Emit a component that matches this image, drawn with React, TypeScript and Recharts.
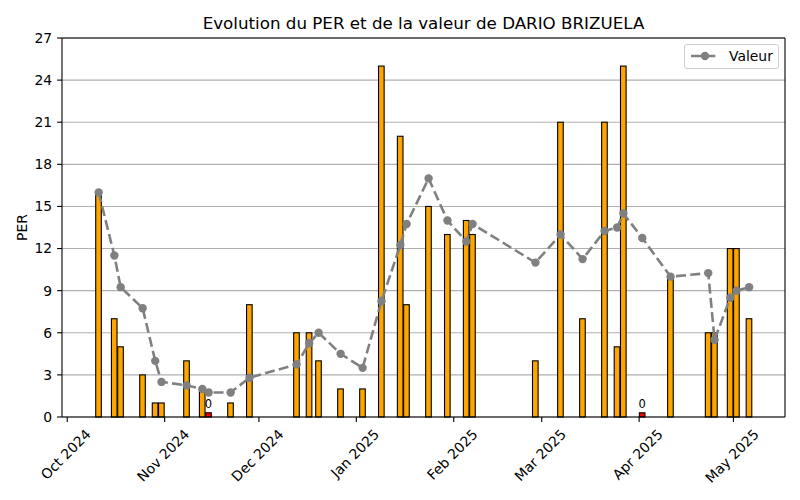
import React from 'react';
import {
  ComposedChart,
  Bar,
  Line,
  XAxis,
  YAxis,
  CartesianGrid,
  ReferenceLine,
  LabelList,
  Legend,
} from 'recharts';

// ---------- data ----------
const dates = [
  '2024-10-11', '2024-10-16', '2024-10-18', '2024-10-25', '2024-10-29', '2024-10-31',
  '2024-11-08', '2024-11-13', '2024-11-15', '2024-11-22', '2024-11-28',
  '2024-12-13', '2024-12-17', '2024-12-20', '2024-12-27',
  '2025-01-03', '2025-01-09', '2025-01-15', '2025-01-17', '2025-01-24', '2025-01-30',
  '2025-02-05', '2025-02-07', '2025-02-27',
  '2025-03-07', '2025-03-14', '2025-03-21', '2025-03-25', '2025-03-27',
  '2025-04-02', '2025-04-11', '2025-04-23', '2025-04-25', '2025-04-30',
  '2025-05-02', '2025-05-06',
];

const perValues = [
  16, 7, 5, 3, 1, 1,
  4, 2, 0.3, 1, 8,
  6, 6, 4, 2,
  2, 25, 20, 8, 15, 13,
  14, 13, 4,
  21, 7, 21, 5, 25,
  0.3, 10, 6, 6, 12,
  12, 7,
];

const perLabels = [
  '', '', '', '', '', '',
  '', '', '0', '', '',
  '', '', '', '',
  '', '', '', '', '', '',
  '', '', '',
  '', '', '', '', '',
  '0', '', '', '', '',
  '', '',
];

const valeurValues = [
  16.0, 11.5, 9.25, 7.75, 4.0, 2.5,
  2.25, 2.0, 1.75, 1.75, 2.8,
  3.75, 5.25, 6.0, 4.5,
  3.5, 8.25, 12.25, 13.75, 17.0, 14.0,
  12.5, 13.75, 11.0,
  13.0, 11.25, 13.25, 13.5, 14.5,
  12.75, 10.0, 10.25, 5.5, 8.5,
  9.0, 9.25,
];

const monthTicks = [
  '2024-10-01', '2024-11-01', '2024-12-01', '2025-01-01',
  '2025-02-01', '2025-03-01', '2025-04-01', '2025-05-01',
];

const yTicks = [0, 3, 6, 9, 12, 15, 18, 21, 24, 27];

const xDomainBounds = ['2024-09-29T08:00:00Z', '2025-05-17T10:00:00Z'];

const TITLE = 'Evolution du PER et de la valeur de DARIO BRIZUELA';
const Y_LABEL = 'PER';
const SERIES_NAME = 'Valeur';
const MONTHS = ['Jan', 'Feb', 'Mar', 'Apr', 'May', 'Jun', 'Jul', 'Aug', 'Sep', 'Oct', 'Nov', 'Dec'];

// ---------- helpers ----------
const toTs = (d: string) => Date.parse(d.length === 10 ? d + 'T00:00:00Z' : d);

const data = dates.map((d, i) => ({
  t: toTs(d),
  per: perValues[i],
  valeur: valeurValues[i],
  label: perLabels[i],
  neg: perLabels[i] !== '',
}));

const monthTickValues = monthTicks.map(toTs);
const xDomain: [number, number] = [toTs(xDomainBounds[0]), toTs(xDomainBounds[1])];

const fmtMonth = (ts: number) => {
  const d = new Date(ts);
  return MONTHS[d.getUTCMonth()] + ' ' + d.getUTCFullYear();
};

const FONT = '"DejaVu Sans", sans-serif';
const TICK_FS = 13.9;

let measureCtx: CanvasRenderingContext2D | null = null;
function textWidth(s: string, size: number): number {
  try {
    if (!measureCtx) measureCtx = document.createElement('canvas').getContext('2d');
    if (measureCtx) {
      measureCtx.font = `${size}px "DejaVu Sans"`;
      return measureCtx.measureText(s).width;
    }
  } catch (e) {
    /* ignore */
  }
  return s.length * size * 0.6;
}

const XTick = (props: any) => {
  const { x, y, payload } = props;
  const label = fmtMonth(payload.value);
  const w = textWidth(label, TICK_FS);
  const h = 14;
  const half = ((w + h) * Math.SQRT1_2) / 2;
  const cx = x - 1.5;
  const cy = y + half;
  return (
    <text
      x={cx}
      y={cy}
      textAnchor="middle"
      dominantBaseline="central"
      transform={`rotate(-45, ${cx}, ${cy})`}
      fontSize={TICK_FS}
      fontFamily={FONT}
      fill="#000"
    >
      {label}
    </text>
  );
};

const BarShape = (props: any) => {
  const { x, y, width, height, payload } = props;
  if (x == null || y == null || height == null || !isFinite(x)) return null;
  const cx = x + (width || 0) / 2;
  const bw = 5.6;
  return (
    <rect
      x={cx - bw / 2}
      y={y}
      width={bw}
      height={Math.max(0, height)}
      fill={payload && payload.neg ? '#ff0000' : '#ffa500'}
      stroke="#000"
      strokeWidth={1.1}
    />
  );
};

const PerLabel = (props: any) => {
  const { x, y, width, value } = props;
  if (!value) return null;
  return (
    <text
      x={x + (width || 0) / 2}
      y={y - 4.5}
      textAnchor="middle"
      fontSize={11.5}
      fontFamily={FONT}
      fill="#000"
    >
      {value}
    </text>
  );
};

const LegendBox = () => (
  <div
    style={{
      position: 'relative',
      width: 95,
      height: 25,
      boxSizing: 'border-box',
      border: '1px solid #d0d0d0',
      borderRadius: 3,
      background: 'rgba(255,255,255,0.8)',
      fontFamily: FONT,
    }}
  >
    <svg width={28} height={12} style={{ position: 'absolute', left: 5.5, top: 5 }}>
      <line x1={0} y1={6} x2={28} y2={6} stroke="#808080" strokeWidth={2.6} strokeDasharray="10 4.3" />
      <circle cx={14} cy={6} r={4.2} fill="#808080" />
    </svg>
    <span
      style={{
        position: 'absolute',
        left: 44,
        top: 2,
        fontSize: TICK_FS,
        lineHeight: '18px',
        color: '#000',
        whiteSpace: 'nowrap',
      }}
    >
      {SERIES_NAME}
    </span>
  </div>
);

export default function App() {
  return (
    <div style={{ position: 'absolute', left: 0, top: 0, width: 800, height: 500, background: '#fff' }}>
      <ComposedChart
        width={800}
        height={500}
        data={data}
        margin={{ top: 38, right: 15, bottom: 0, left: 0 }}
      >
        <CartesianGrid vertical={false} stroke="#b0b0b0" strokeWidth={1.1} />
        <XAxis
          dataKey="t"
          type="number"
          domain={xDomain}
          allowDataOverflow
          ticks={monthTickValues}
          interval={0}
          tick={<XTick />}
          tickSize={4.9}
          tickMargin={4.9}
          height={83}
          axisLine={{ stroke: '#000', strokeWidth: 1.1 }}
          tickLine={{ stroke: '#000', strokeWidth: 1.1 }}
        />
        <YAxis
          type="number"
          domain={[0, 27]}
          ticks={yTicks}
          interval={0}
          width={62}
          tickSize={4.9}
          tickMargin={4.9}
          tick={{ fill: '#000', fontSize: TICK_FS, fontFamily: FONT }}
          axisLine={{ stroke: '#000', strokeWidth: 1.1 }}
          tickLine={{ stroke: '#000', strokeWidth: 1.1 }}
        />
        <ReferenceLine y={27} stroke="#000" strokeWidth={1.1} />
        <ReferenceLine x={xDomain[1]} stroke="#000" strokeWidth={1.1} />
        <Bar dataKey="per" barSize={6} shape={<BarShape />} isAnimationActive={false} legendType="none">
          <LabelList dataKey="label" content={<PerLabel />} />
        </Bar>
        <Line
          type="linear"
          dataKey="valeur"
          name={SERIES_NAME}
          stroke="#808080"
          strokeWidth={2.6}
          strokeDasharray="10 4.3"
          dot={{ r: 4.2, fill: '#808080', stroke: '#808080', strokeWidth: 0, strokeDasharray: '' }}
          activeDot={false}
          isAnimationActive={false}
        />
        <Legend
          layout="vertical"
          align="center"
          verticalAlign="middle"
          content={<LegendBox />}
          wrapperStyle={{ left: 684, top: 44, width: 95, height: 25 }}
        />
      </ComposedChart>
      <svg
        width={800}
        height={500}
        style={{ position: 'absolute', left: 0, top: 0, pointerEvents: 'none' }}
      >
        <text x={423.5} y={29} textAnchor="middle" fontSize={16.7} fontFamily={FONT} fill="#000">
          {TITLE}
        </text>
        <text
          x={22}
          y={227.5}
          textAnchor="middle"
          dominantBaseline="central"
          transform="rotate(-90, 22, 227.5)"
          fontSize={TICK_FS}
          fontFamily={FONT}
          fill="#000"
        >
          {Y_LABEL}
        </text>
      </svg>
    </div>
  );
}
